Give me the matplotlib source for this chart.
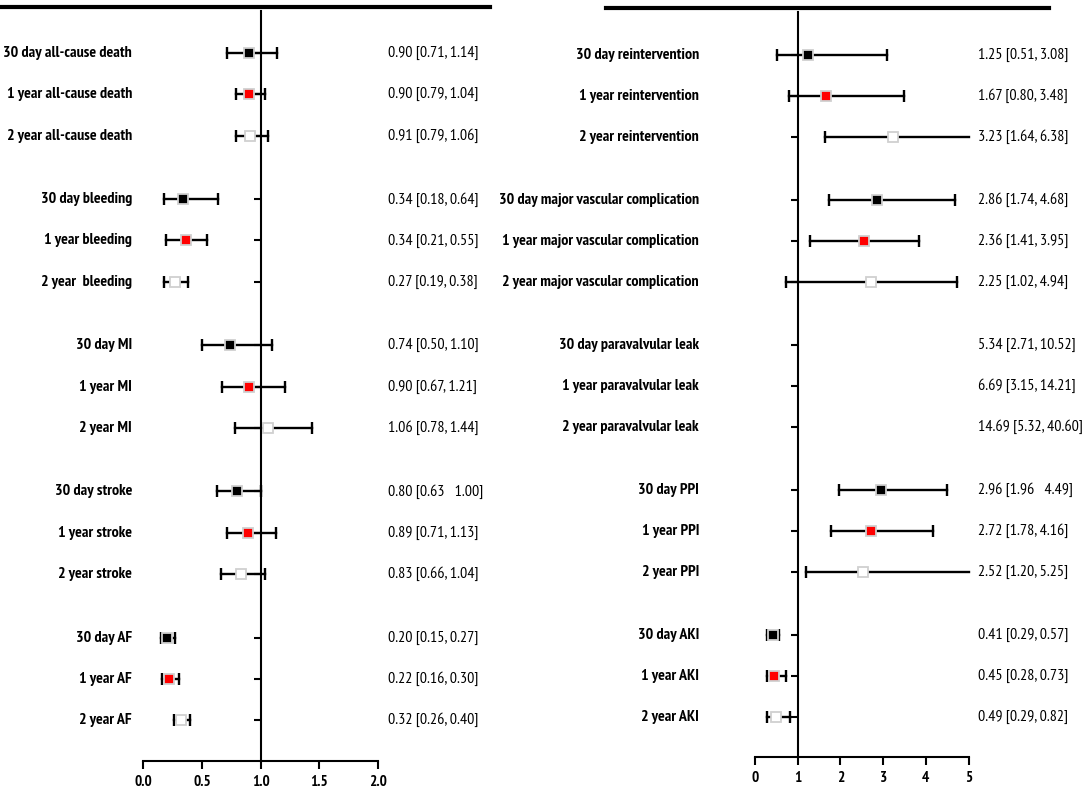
import numpy as np
import matplotlib
matplotlib.use("Agg")
from matplotlib import pyplot as plt
from matplotlib.lines import Line2D
from matplotlib.transforms import blended_transform_factory

# ---- data: left panel ----
left_labels = ["30 day all-cause death", "1 year all-cause death", "2 year all-cause death",
               "30 day bleeding", "1 year bleeding", "2 year  bleeding",
               "30 day MI", "1 year MI", "2 year MI",
               "30 day stroke", "1 year stroke", "2 year stroke",
               "30 day AF", "1 year AF", "2 year AF"]
left_est = [0.90, 0.90, 0.91, 0.34, 0.36, 0.27, 0.74, 0.90, 1.06, 0.80, 0.89, 0.83, 0.20, 0.22, 0.32]
left_lo = [0.71, 0.79, 0.79, 0.18, 0.19, 0.18, 0.50, 0.67, 0.78, 0.63, 0.71, 0.66, 0.15, 0.16, 0.26]
left_hi = [1.14, 1.04, 1.06, 0.64, 0.54, 0.38, 1.10, 1.21, 1.44, 1.00, 1.13, 1.04, 0.27, 0.30, 0.40]
left_text = ["0.90 [0.71, 1.14]", "0.90 [0.79, 1.04]", "0.91 [0.79, 1.06]",
             "0.34 [0.18, 0.64]", "0.34 [0.21, 0.55]", "0.27 [0.19, 0.38]",
             "0.74 [0.50, 1.10]", "0.90 [0.67, 1.21]", "1.06 [0.78, 1.44]",
             "0.80 [0.63   1.00]", "0.89 [0.71, 1.13]", "0.83 [0.66, 1.04]",
             "0.20 [0.15, 0.27]", "0.22 [0.16, 0.30]", "0.32 [0.26, 0.40]"]

# ---- data: right panel ----
right_labels = ["30 day reintervention", "1 year reintervention", "2 year reintervention",
                "30 day major vascular complication", "1 year major vascular complication",
                "2 year major vascular complication",
                "30 day paravalvular leak", "1 year paravalvular leak", "2 year paravalvular leak",
                "30 day PPI", "1 year PPI", "2 year PPI",
                "30 day AKI", "1 year AKI", "2 year AKI"]
right_est = [1.25, 1.67, 3.23, 2.86, 2.56, 2.71, 5.34, 6.69, 14.69, 2.96, 2.72, 2.52, 0.41, 0.45, 0.49]
right_lo = [0.51, 0.80, 1.64, 1.74, 1.28, 0.72, 2.71, 3.15, 5.32, 1.96, 1.78, 1.20, 0.29, 0.28, 0.29]
right_hi = [3.08, 3.48, 6.38, 4.68, 3.84, 4.74, 10.52, 14.21, 40.60, 4.49, 4.16, 5.25, 0.57, 0.73, 0.82]
right_text = ["1.25 [0.51, 3.08]", "1.67 [0.80, 3.48]", "3.23 [1.64, 6.38]",
              "2.86 [1.74, 4.68]", "2.36 [1.41, 3.95]", "2.25 [1.02, 4.94]",
              "5.34 [2.71, 10.52]", "6.69 [3.15, 14.21]", "14.69 [5.32, 40.60]",
              "2.96 [1.96   4.49]", "2.72 [1.78, 4.16]", "2.52 [1.20, 5.25]",
              "0.41 [0.29, 0.57]", "0.45 [0.28, 0.73]", "0.49 [0.29, 0.82]"]

# marker fill per time point: 30 day / 1 year / 2 year
fills = ["black", "red", "white"]

plt.rcParams["font.family"] = ["PT Sans Narrow", "DejaVu Sans"]

W, H = 1084, 791
fig = plt.figure(figsize=(W / 100, H / 100), dpi=100)

GROUP = 3.54
ypos = np.array([g * GROUP + i for g in range(5) for i in range(3)])


def panel(ax_rect, labels, est, lo, hi, text, xmax, xticks, xtl, lab_x, val_x, ylim):
    ax = fig.add_axes(ax_rect)
    ax.set_xlim(0, xmax)
    ax.set_ylim(*ylim)
    for s in ["top", "right"]:
        ax.spines[s].set_visible(False)
    ax.spines["left"].set_position(("data", 1))
    ax.spines["left"].set_linewidth(1.5)
    ax.spines["bottom"].set_linewidth(1.5)
    ax.set_yticks(ypos)
    ax.set_yticklabels([])
    ax.tick_params(axis="y", length=5, width=1.5, direction="out")
    ax.set_xticks(xticks)
    ax.set_xticklabels(xtl, fontweight="bold", fontsize=11)
    ax.tick_params(axis="x", length=6, width=1.5, direction="out", pad=4)

    tr = blended_transform_factory(fig.transFigure, ax.transData)
    for k in range(len(labels)):
        y = ypos[k]
        ax.text(lab_x / W, y, labels[k], transform=tr, ha="right", va="center",
                fontsize=11.5, fontweight="bold")
        ax.text(val_x / W, y, text[k], transform=tr, ha="left", va="center", fontsize=11.5)
        if est[k] > xmax:
            continue
        a = max(lo[k], 0)
        b = min(hi[k], xmax)
        ax.plot([a, b], [y, y], color="black", lw=1.7, clip_on=False, zorder=3)
        caps = [x for x in (lo[k], hi[k]) if 0 <= x <= xmax]
        ax.plot(caps, [y] * len(caps), ls="none", marker="|", ms=8, mew=1.7,
                color="black", clip_on=False, zorder=3)
        ax.plot(est[k], y, marker="s", ms=6.5, mfc=fills[k % 3], mec="#d0d0d0",
                mew=1.3, ls="none", zorder=4, clip_on=False)
    return ax


panel([143.3 / W, 1 - 761 / H, 234.8 / W, 750 / H],
      left_labels, left_est, left_lo, left_hi, left_text,
      2.0, [0, 0.5, 1.0, 1.5, 2.0], ["0.0", "0.5", "1.0", "1.5", "2.0"],
      132, 388, (ypos[-1] + 0.99, -1.02))

panel([755.1 / W, 1 - 757 / H, 213.4 / W, 745 / H],
      right_labels, right_est, right_lo, right_hi, right_text,
      5, [0, 1, 2, 3, 4, 5], ["0", "1", "2", "3", "4", "5"],
      699, 978, (ypos[-1] + 0.98, -1.05))

# thick header rules
fig.add_artist(Line2D([2 / W, 490 / W], [1 - 7 / H, 1 - 7 / H], color="black", lw=3))
fig.add_artist(Line2D([606 / W, 1049 / W], [1 - 8 / H, 1 - 8 / H], color="black", lw=3))

fig.savefig("out.png", dpi=100)
